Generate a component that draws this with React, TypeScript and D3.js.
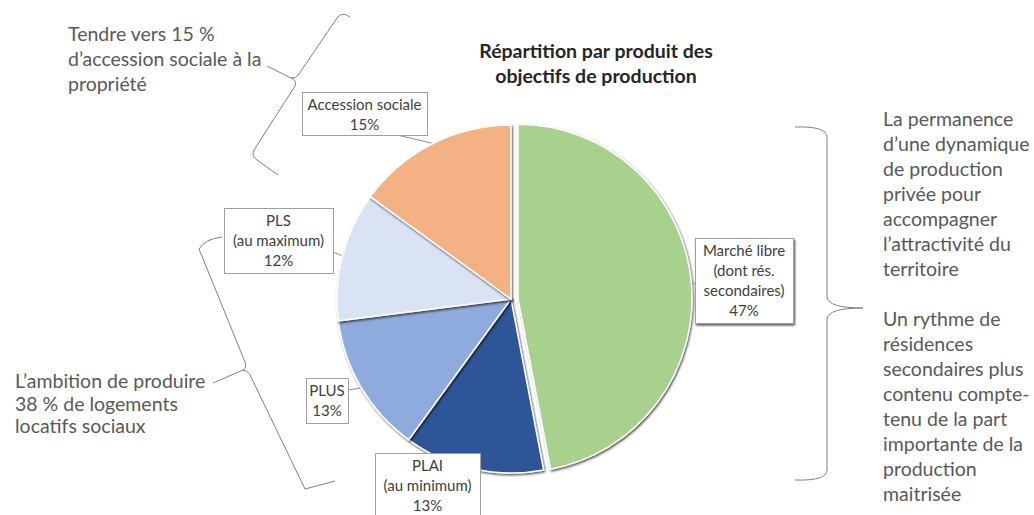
import React, { useEffect, useRef } from "react";
import * as d3 from "d3";

// pie data, clockwise from 12 o'clock
const categories = ["Marché libre", "PLAI", "PLUS", "PLS", "Accession sociale"];
const shares = [47, 13, 13, 12, 15];
const sliceColors = ["#A9D18E", "#2F5597", "#8FAADC", "#DAE3F3", "#F4B183"];
const labelNames = [
  ["Marché libre", "(dont rés.", "secondaires)"],
  ["PLAI", "(au minimum)"],
  ["PLUS"],
  ["PLS", "(au maximum)"],
  ["Accession sociale"],
];

const titleLines = ["Répartition par produit des", "objectifs de production"];
const noteTopLeft = ["Tendre vers 15 %", "d’accession sociale à la", "propriété"];
const noteLeft = ["L’ambition de produire", "38 % de logements", "locatifs sociaux"];
const noteRight = [
  "La permanence", "d’une dynamique", "de production", "privée pour", "accompagner",
  "l’attractivité du", "territoire", "",
  "Un rythme de", "résidences", "secondaires plus", "contenu compte-", "tenu de la part",
  "importante de la", "production", "maitrisée",
];

// label box placement (layout only)
const boxLayout: Record<string, { x: number; y: number; w: number; h: number; ax?: number; ay?: number }> = {
  "Marché libre": { x: 695, y: 238, w: 98, h: 85, ax: 695, ay: 284 },
  PLAI: { x: 375, y: 453, w: 105, h: 72 },
  PLUS: { x: 306, y: 378, w: 42, h: 45, ax: 348, ay: 390 },
  PLS: { x: 224, y: 208, w: 109, h: 65, ax: 333, ay: 252 },
  "Accession sociale": { x: 302, y: 92, w: 125, h: 43, ax: 397, ay: 135 },
};

export default function App() {
  const ref = useRef<SVGSVGElement>(null);

  useEffect(() => {
    const W = 1034, H = 515;
    const svg = d3.select(ref.current).attr("width", W).attr("height", H);
    svg.selectAll("*").remove();

    const defs = svg.append("defs");
    const f = defs.append("filter").attr("id", "shadow").attr("x", "-10%").attr("y", "-10%")
      .attr("width", "130%").attr("height", "130%");
    f.append("feDropShadow").attr("dx", 1).attr("dy", 1.5).attr("stdDeviation", 0.8)
      .attr("flood-color", "#000").attr("flood-opacity", 0.7);

    const font = "Lato, 'Open Sans', sans-serif";
    const cx = 511, cy = 299, r = 174, explode = 7;

    const pie = d3.pie<number>().sort(null).value(d => d);
    const arcs = pie(shares);
    const arc = d3.arc<d3.PieArcDatum<number>>().innerRadius(0).outerRadius(r);
    const edge = d3.arc<d3.PieArcDatum<number>>().innerRadius(r + 1).outerRadius(r + 1);

    const g = svg.append("g").attr("transform", `translate(${cx},${cy})`);
    g.selectAll("path.slice")
      .data(arcs)
      .join("path")
      .attr("class", "slice")
      .attr("d", arc)
      .attr("transform", (d, i) => {
        if (i !== 0) return null;
        const m = (d.startAngle + d.endAngle) / 2;
        return `translate(${Math.sin(m) * explode},${-Math.cos(m) * explode})`;
      })
      .attr("fill", (d, i) => sliceColors[i])
      .attr("stroke", "#fff")
      .attr("stroke-width", 1.5)
      .attr("filter", "url(#shadow)");

    // leader lines
    arcs.forEach((d, i) => {
      const b = boxLayout[categories[i]];
      if (b.ax === undefined) return;
      const [px, py] = edge.centroid(d);
      const m = (d.startAngle + d.endAngle) / 2;
      const off = i === 0 ? explode : 0;
      svg.append("line")
        .attr("x1", b.ax).attr("y1", b.ay!)
        .attr("x2", cx + px + Math.sin(m) * off).attr("y2", cy + py - Math.cos(m) * off)
        .attr("stroke", "#8c8c8c").attr("stroke-width", 1);
    });

    // label boxes
    categories.forEach((c, i) => {
      const b = boxLayout[c];
      const lines = [...labelNames[i], `${shares[i]}%`];
      svg.append("rect")
        .attr("x", b.x + 0.5).attr("y", b.y + 0.5).attr("width", b.w).attr("height", b.h)
        .attr("fill", "#fff").attr("stroke", "#a0a0a0").attr("stroke-width", 1)
        .attr("filter", i === 0 ? "url(#shadow)" : null);
      const t = svg.append("text")
        .attr("font-family", font).attr("font-size", 15).attr("fill", "#404040")
        .attr("text-anchor", "middle");
      lines.forEach((l, k) => {
        t.append("tspan").attr("x", b.x + b.w / 2).attr("y", b.y + 18 + k * 20).text(l);
      });
    });

    // title
    const title = svg.append("text").attr("font-family", font).attr("font-size", 19.5)
      .attr("font-weight", "bold").attr("fill", "#262626").attr("text-anchor", "middle");
    titleLines.forEach((l, k) => title.append("tspan").attr("x", 596).attr("y", 58 + k * 25).text(l));

    const note = (lines: string[], x: number, y0: number, step: number) => {
      const t = svg.append("text").attr("font-family", font).attr("font-size", 19.5).attr("fill", "#595959");
      lines.forEach((l, k) => t.append("tspan").attr("x", x).attr("y", y0 + k * step).text(l));
    };
    note(noteTopLeft, 68, 41, 25);
    note(noteLeft, 15, 388, 22.5);
    note(noteRight, 883, 126, 25);

    // braces
    const braces = [
      "M350,17 Q342,11 337,18 L299,74 Q296,79 291,78 L267,66 M291,78 Q297,80 295,86 L254,150 Q251,156 257,160 L278,175",
      "M222,237 Q205,239 199,249 L245,362 Q247,368 243,370 L213,383 M243,370 Q249,371 251,377 L305,489 L335,481",
      "M795,127 Q827,126 827,137 L827,297 Q828,308 863,308 Q828,308 827,319 L827,470 Q827,481 795,480",
    ];
    svg.selectAll("path.brace").data(braces).join("path").attr("class", "brace")
      .attr("d", d => d).attr("fill", "none").attr("stroke", "#808080").attr("stroke-width", 1);
  }, []);

  return (
    <svg ref={ref} style={{ position: "absolute", left: 0, top: 0, background: "#fff" }} />
  );
}
